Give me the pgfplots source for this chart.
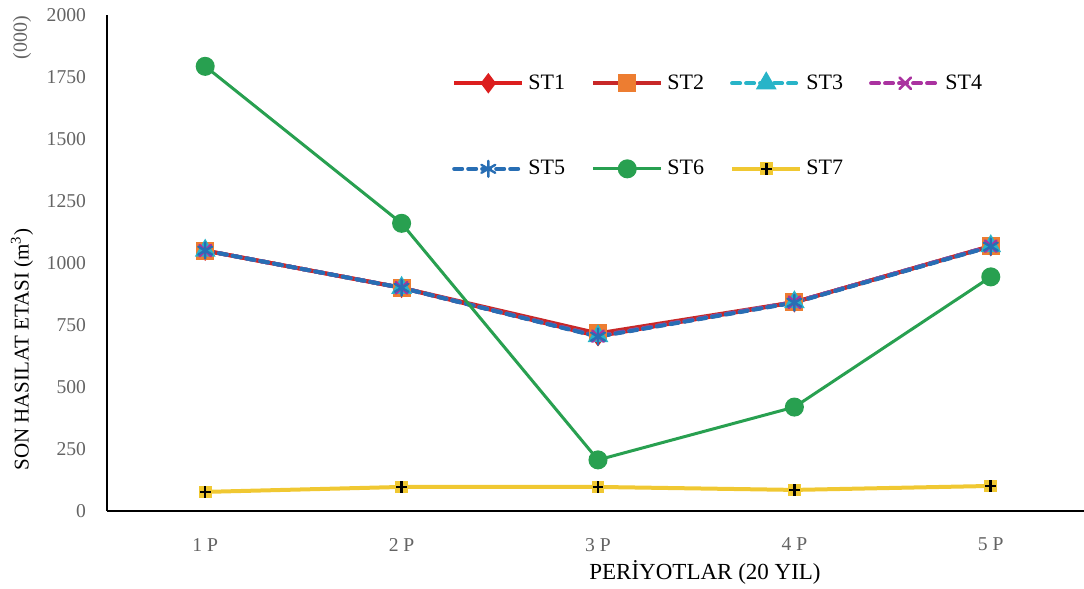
\documentclass[border=0pt]{standalone}
\usepackage{pgfplots}
\pgfplotsset{compat=1.18}
\usepackage{fontspec}
\setmainfont{Liberation Serif}
\definecolor{st1}{RGB}{220,30,30}
\definecolor{st2l}{RGB}{200,40,40}
\definecolor{st2}{RGB}{237,125,49}
\definecolor{st3}{RGB}{40,180,200}
\definecolor{st4}{RGB}{170,50,160}
\definecolor{st5}{RGB}{40,110,180}
\definecolor{st6}{RGB}{40,160,80}
\definecolor{st7}{RGB}{240,200,50}
\definecolor{tickgray}{RGB}{100,100,100}
\pgfdeclareplotmark{sqplus}{%
 \pgfpathrectangle{\pgfpoint{-\pgfplotmarksize}{-\pgfplotmarksize}}{\pgfpoint{2\pgfplotmarksize}{2\pgfplotmarksize}}%
 \pgfsetfillcolor{st7}\pgfusepath{fill}%
 \pgfsetstrokecolor{black}\pgfsetlinewidth{1.3pt}%
 \pgfpathmoveto{\pgfpoint{-0.85\pgfplotmarksize}{0pt}}\pgfpathlineto{\pgfpoint{0.85\pgfplotmarksize}{0pt}}%
 \pgfpathmoveto{\pgfpoint{0pt}{-0.9\pgfplotmarksize}}\pgfpathlineto{\pgfpoint{0pt}{0.9\pgfplotmarksize}}%
 \pgfusepath{stroke}}
\begin{document}
\begin{tikzpicture}
\begin{axis}[
  scale only axis,
  width=491pt, height=248pt,
  xmin=0.5, xmax=5.5, ymin=0, ymax=2000,
  axis x line=bottom, axis y line=left,
  axis line style={-, black, line width=0.8pt},
  xtick={1,2,3,4,5},
  xticklabels={1 P,2 P,3 P,4 P,5 P},
  ytick={0,250,500,750,1000,1250,1500,1750,2000},
  major tick length=0pt,
  /pgf/number format/assume math mode=true,
  /pgf/number format/1000 sep={},
  ticklabel style={font=\fontsize{9.8}{11}\selectfont, text=tickgray},
  xticklabel style={yshift=-10pt},
  yticklabel style={xshift=-7pt},
  xlabel={PER\.{I}YOTLAR (20 YIL)},
  xlabel style={at={(axis description cs:0.609,0)}, anchor=center, yshift=-30.5pt, font=\fontsize{11.5}{13}\selectfont},
  ylabel={SON HASILAT ETASI (m\textsuperscript{3})},
  ylabel style={at={(axis description cs:-0.0866,0.325)}, anchor=center, font=\fontsize{10.5}{12}\selectfont},
  legend style={draw=none, fill=none, at={(axis description cs:0.345,0.897)}, anchor=north west,
    font=\fontsize{11}{13}\selectfont, column sep=0pt, row sep=30pt,
    /tikz/every even column/.append style={column sep=11pt},
    nodes={inner xsep=2pt}},
  legend columns=4,
  legend cell align=left,
  legend image code/.code={\draw[mark repeat=2,mark phase=2] plot coordinates {(0cm,0cm)(0.6cm,0cm)(1.2cm,0cm)};},
  clip=false,
]
\addplot[st1, line width=2pt, mark=diamond*, mark size=3.5pt, mark options={solid, fill=st1}] coordinates {(1,1050)(2,900)(3,705)(4,842)(5,1068)};
\addlegendentry{ST1}
\addplot[st2l, line width=2pt, mark=square*, mark size=3.5pt, mark options={solid, draw=st2, fill=st2}] coordinates {(1,1050)(2,900)(3,716)(4,842)(5,1068)};
\addlegendentry{ST2}
\addplot[st3, line width=2pt, dash pattern=on 4pt off 3pt, line cap=round, mark=triangle*, mark size=4pt, mark options={solid, fill=st3}] coordinates {(1,1050)(2,900)(3,705)(4,842)(5,1068)};
\addlegendentry{ST3}
\addplot[st4, line width=2pt, dash pattern=on 4pt off 3pt, line cap=round, mark=x, mark size=4pt, mark options={solid, line width=1.3pt}] coordinates {(1,1050)(2,900)(3,705)(4,842)(5,1068)};
\addlegendentry{ST4}
\addplot[st5, line width=2pt, dash pattern=on 4pt off 3pt, line cap=round, mark=asterisk, mark size=4pt, mark options={solid, line width=1.2pt}] coordinates {(1,1050)(2,900)(3,703)(4,840)(5,1066)};
\addlegendentry{ST5}
\addplot[st6, line width=1.5pt, mark=*, mark size=4pt, mark options={solid, fill=st6}] coordinates {(1,1793)(2,1160)(3,206)(4,419)(5,944)};
\addlegendentry{ST6}
\addplot[st7, line width=2pt, mark=sqplus, mark size=3.2pt, mark options={solid}] coordinates {(1,77)(2,97)(3,97)(4,85)(5,101)};
\addlegendentry{ST7}
\node[rotate=90, anchor=center, text=tickgray, font=\fontsize{10}{12}\selectfont] at ([xshift=-42.5pt]axis description cs:0,0.954) {(000)};
\end{axis}
\pgfresetboundingbox
\path ([shift={(-53.5pt,-39pt)}]current axis.south west) rectangle ([shift={(488.5pt,255.5pt)}]current axis.south west);
\end{tikzpicture}
\end{document}
